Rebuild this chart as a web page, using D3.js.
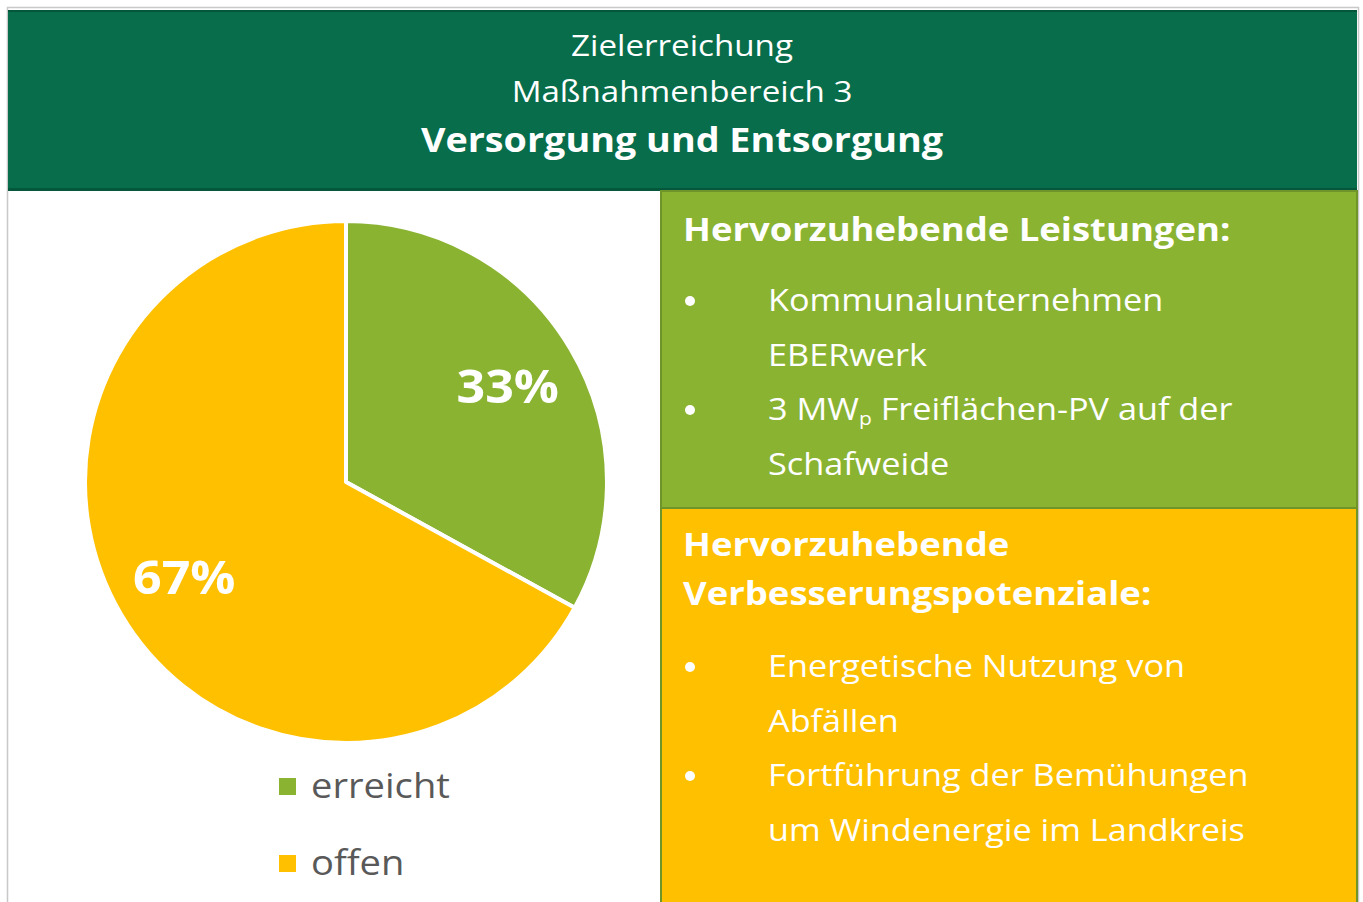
<!DOCTYPE html>
<html>
<head>
<meta charset="utf-8">
<script src="https://cdn.jsdelivr.net/npm/d3@7"></script>
<style>
  body { margin: 0; background: #ffffff; }
  svg { display: block; font-family: "Open Sans", "Noto Sans", sans-serif; }
</style>
</head>
<body>
<svg id="chart" width="1363" height="902"></svg>
<script>
// data
const categories = ['erreicht', 'offen'];
const values = [33, 67];
const colors = ['#8AB332', '#FFC000'];

const titleLines = ['Zielerreichung', 'Maßnahmenbereich 3'];
const titleBold = 'Versorgung und Entsorgung';

const leistungenHead = ['Hervorzuhebende Leistungen:'];
const leistungen = [
    ['Kommunalunternehmen', 'EBERwerk'],
    ['3 MW|p| Freiflächen-PV auf der', 'Schafweide']
];
const potenzialeHead = ['Hervorzuhebende', 'Verbesserungspotenziale:'];
const potenziale = [
    ['Energetische Nutzung von', 'Abfällen'],
    ['Fortführung der Bemühungen', 'um Windenergie im Landkreis']
];

const svg = d3.select('#chart');
const W = 1363, H = 902;
const stretch = 1.105; // the original font runs a bit wider than Open Sans

// text placed at x,y, widened horizontally
function wideText(parent, x, y, sx){
    return parent.append('g')
        .attr('transform', 'translate(' + x + ',' + y + ') scale(' + sx + ',1)')
        .append('text');
}

// outer frame
svg.append('rect')
    .attr('x', 7.5).attr('y', 7.5)
    .attr('width', 1351).attr('height', H)
    .attr('fill', '#fff')
    .attr('stroke', '#c8c8c8')
    .attr('stroke-width', 1.5);

// header
svg.append('rect')
    .attr('x', 8).attr('y', 10)
    .attr('width', 1349).attr('height', 181)
    .attr('fill', '#076D4B');
svg.append('rect').attr('x', 8).attr('y', 10).attr('width', 1349).attr('height', 2).attr('fill', '#05573b');
svg.append('rect').attr('x', 8).attr('y', 188).attr('width', 1349).attr('height', 3).attr('fill', '#05573b');

const cx = 682;
titleLines.forEach((d, i) => {
    wideText(svg, cx, 56 + i * 46, stretch)
        .attr('text-anchor', 'middle')
        .attr('fill', '#ffffff')
        .style('font-size', '30px')
        .text(d);
});

wideText(svg, cx, 152, 1.11)
    .attr('text-anchor', 'middle')
    .attr('fill', '#ffffff')
    .style('font-size', '34px')
    .style('font-weight', 'bold')
    .text(titleBold);

// pie
const pieCx = 346, pieCy = 482, r = 261;
const pie = d3.pie().sort(null).value(d => d)(values);
const arc = d3.arc().innerRadius(0).outerRadius(r);
const labelArc = d3.arc().innerRadius(r * 0.72).outerRadius(r * 0.72);

const pg = svg.append('g').attr('transform', 'translate(' + pieCx + ',' + pieCy + ')');
pg.selectAll('path')
    .data(pie)
    .enter()
    .append('path')
    .attr('d', arc)
    .attr('fill', (d, i) => colors[i])
    .attr('stroke', '#ffffff')
    .attr('stroke-width', 4)
    .attr('stroke-linejoin', 'round');

pie.forEach(d => {
    const c = labelArc.centroid(d);
    wideText(pg, c[0], c[1], 1.09)
        .attr('text-anchor', 'middle')
        .attr('dy', '0.36em')
        .attr('fill', '#ffffff')
        .style('font-size', '46px')
        .style('font-weight', 'bold')
        .text(d.data + '%');
});

// legend
const lg = svg.append('g');
const legendY = d3.scalePoint().domain(categories).range([786, 863]);
lg.selectAll('rect')
    .data(categories)
    .enter()
    .append('rect')
    .attr('x', 279)
    .attr('y', d => legendY(d) - 8)
    .attr('width', 17).attr('height', 17)
    .attr('fill', (d, i) => colors[i]);
categories.forEach(d => {
    wideText(lg, 311, legendY(d), 1.09)
        .attr('dy', '0.35em')
        .attr('fill', '#595959')
        .style('font-size', '35px')
        .text(d);
});

// right panels
function drawPanel(y, h, fill, head, items, headY, itemY){
    svg.append('rect')
        .attr('x', 661).attr('y', y)
        .attr('width', 696).attr('height', h)
        .attr('fill', fill)
        .attr('stroke', '#6E942A')
        .attr('stroke-width', 2);

    head.forEach((d, i) => {
        wideText(svg, 683, headY + i * 49, stretch)
            .attr('fill', '#ffffff')
            .style('font-size', '33px')
            .style('font-weight', 'bold')
            .text(d);
    });

    let lineNo = 0;
    items.forEach(lines => {
        svg.append('circle')
            .attr('cx', 690)
            .attr('cy', itemY + lineNo * 54.5 - 10)
            .attr('r', 5)
            .attr('fill', '#ffffff');
        lines.forEach(line => {
            const t = wideText(svg, 768, itemY + lineNo * 54.5, stretch)
                .attr('fill', '#ffffff')
                .style('font-size', '31px');
            // |p| marks subscript
            line.split('|').forEach((part, k) => {
                const ts = t.append('tspan').text(part);
                if(k % 2 == 1){
                    ts.style('font-size', '19px').attr('dy', 5);
                }else if(k > 0){
                    ts.attr('dy', -5);
                }
            });
            lineNo++;
        });
    });
}

drawPanel(191, 317, colors[0], leistungenHead, leistungen, 241, 311);
drawPanel(508, 400, colors[1], potenzialeHead, potenziale, 556, 677);
</script>
</body>
</html>
